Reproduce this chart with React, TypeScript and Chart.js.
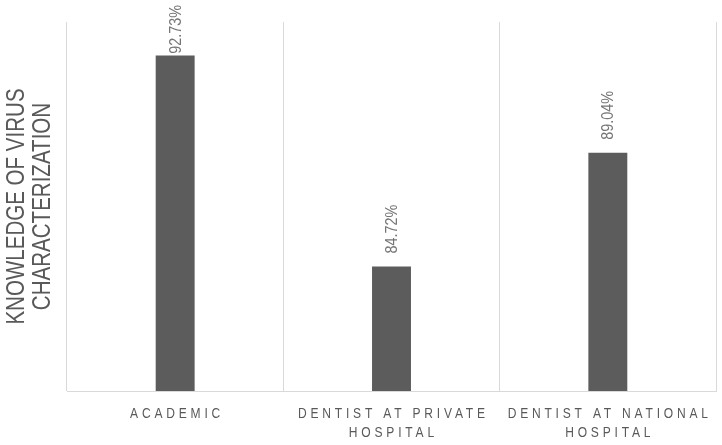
import React, { useEffect, useRef } from "react";
import { Chart, registerables } from "chart.js";

Chart.register(...registerables);

const categories: string[][] = [
  ["ACADEMIC"],
  ["DENTIST AT PRIVATE", "HOSPITAL"],
  ["DENTIST AT NATIONAL", "HOSPITAL"],
];
const knowledgeValues: number[] = [92.73, 84.72, 89.04];
const yAxisTitle: string[] = ["KNOWLEDGE OF VIRUS", "CHARACTERIZATION"];
const yMin = 80;
const yMax = 94;

type TextOpts = {
  size: number;
  color: string;
  scaleX: number;
  spacing: number;
  rotate?: boolean;
  family?: string;
};

function drawText(ctx: CanvasRenderingContext2D, text: string, x: number, y: number, o: TextOpts) {
  ctx.save();
  ctx.translate(x, y);
  if (o.rotate) ctx.rotate(-Math.PI / 2);
  ctx.scale(o.scaleX, 1);
  ctx.font = `${o.size}px ${o.family || '"Liberation Sans", Arial, sans-serif'}`;
  (ctx as any).letterSpacing = `${o.spacing / o.scaleX}px`;
  ctx.fillStyle = o.color;
  ctx.textAlign = "center";
  ctx.textBaseline = "middle";
  ctx.fillText(text, o.spacing / (2 * o.scaleX), 0);
  ctx.restore();
}

function measure(ctx: CanvasRenderingContext2D, text: string, o: TextOpts) {
  ctx.save();
  ctx.font = `${o.size}px ${o.family || '"Liberation Sans", Arial, sans-serif'}`;
  (ctx as any).letterSpacing = `${o.spacing / o.scaleX}px`;
  const w = ctx.measureText(text).width * o.scaleX;
  ctx.restore();
  return w;
}

const textPlugin = {
  id: "customText",
  afterDraw(chart: any) {
    const ctx: CanvasRenderingContext2D = chart.ctx;
    const area = chart.chartArea;
    const xs = chart.scales.x;
    // y axis title
    const midY = (area.top + area.bottom) / 2;
    const titleOpts: TextOpts = { size: 26, color: "#595959", scaleX: 0.79, spacing: 0, rotate: true };
    drawText(ctx, yAxisTitle[0], 17, midY, titleOpts);
    drawText(ctx, yAxisTitle[1], 43, midY, titleOpts);
    // category labels
    const catOpts: TextOpts = { size: 14, color: "#595959", scaleX: 0.86, spacing: 3.8 };
    categories.forEach((lines, i) => {
      const x = xs.getPixelForValue(i);
      lines.forEach((line, j) => {
        drawText(ctx, line, x, area.bottom + 23 + j * 19, catOpts);
      });
    });
    // data labels
    const meta = chart.getDatasetMeta(0);
    const lblOpts: TextOpts = { size: 16, color: "#767676", scaleX: 0.9, spacing: 0, rotate: true };
    meta.data.forEach((bar: any, i: number) => {
      const txt = knowledgeValues[i].toFixed(2) + "%";
      const w = measure(ctx, txt, lblOpts);
      let bottom = bar.y - 13;
      let top = bottom - w;
      if (top < 5) {
        top = 5;
        bottom = top + w;
      }
      drawText(ctx, txt, bar.x + 1, (top + bottom) / 2, lblOpts);
    });
  },
};

export default function App() {
  const ref = useRef<HTMLCanvasElement | null>(null);
  useEffect(() => {
    document.body.style.margin = "0";
    const canvas = ref.current!;
    const chart = new Chart(canvas, {
      type: "bar",
      data: {
        labels: categories.map((c) => c.join(" ")),
        datasets: [
          {
            data: knowledgeValues,
            backgroundColor: "#5c5c5c",
            borderWidth: 0,
            barPercentage: 0.18,
            categoryPercentage: 1,
          },
        ],
      },
      options: {
        responsive: false,
        animation: false,
        layout: { padding: { left: 67, right: 6, top: 22, bottom: 54 } },
        plugins: { legend: { display: false }, tooltip: { enabled: false } },
        scales: {
          x: {
            offset: true,
            ticks: { display: false },
            grid: { offset: true, drawTicks: false, color: "#d9d9d9", lineWidth: 1 },
            border: { display: true, color: "#d9d9d9", width: 1 },
          },
          y: {
            display: false,
            min: yMin,
            max: yMax,
          },
        },
      },
      plugins: [textPlugin],
    });
    return () => chart.destroy();
  }, []);
  return (
    <div style={{ width: 722, height: 445, background: "#fff" }}>
      <canvas ref={ref} width={722} height={445} />
    </div>
  );
}
